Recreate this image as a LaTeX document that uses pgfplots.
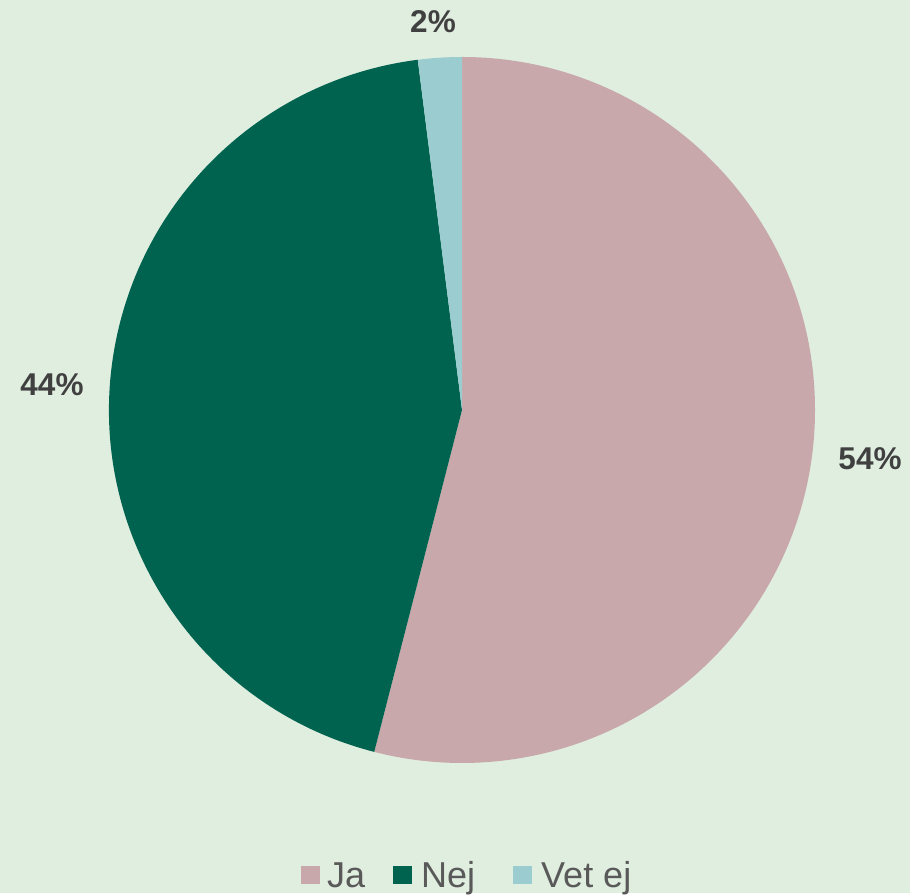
\documentclass[border=0pt]{standalone}
\usepackage{pgfplots}
\pgfplotsset{compat=1.18}
\usepackage{fontspec}
\setmainfont{Liberation Sans}
\definecolor{bg}{RGB}{224,238,224}
\definecolor{ja}{RGB}{200,168,170}
\definecolor{nej}{RGB}{0,99,80}
\definecolor{vetej}{RGB}{155,204,208}
\definecolor{lbl}{RGB}{64,64,64}
\definecolor{leg}{RGB}{89,89,89}

\begin{document}
\begin{tikzpicture}
\begin{axis}[
    x=1pt, y=1pt,
    xmin=0, xmax=910, ymin=0, ymax=893,
    hide axis, clip=false,
]
\fill[bg] (axis cs:0,0) rectangle (axis cs:910,893);

% shares in percent: Ja 54, Nej 44, Vet ej 2 -> 3.6 degrees per percent, clockwise from 12 o'clock
\fill[ja]    (axis cs:462,483) -- ++(90:353pt)     arc[start angle=90,     delta angle=-194.4, radius=353pt] -- cycle;
\fill[nej]   (axis cs:462,483) -- ++(-104.4:353pt) arc[start angle=-104.4, delta angle=-158.4, radius=353pt] -- cycle;
\fill[vetej] (axis cs:462,483) -- ++(-262.8:353pt) arc[start angle=-262.8, delta angle=-7.2,   radius=353pt] -- cycle;

\begin{scope}[every node/.style={inner sep=0pt, text=lbl, font=\fontsize{31.5}{37}\selectfont\bfseries}]
\node at (axis cs:870,434) {54\%};
\node at (axis cs:52,508) {44\%};
\node at (axis cs:433,871) {2\%};
\end{scope}

% legend
\fill[ja]    (axis cs:301,9) rectangle (axis cs:320,27);
\fill[nej]   (axis cs:393,9) rectangle (axis cs:412,27);
\fill[vetej] (axis cs:513,9) rectangle (axis cs:532,27);
\begin{scope}[every node/.style={inner sep=0pt, anchor=base west, text=leg, font=\fontsize{36}{42}\selectfont}]
\node at (axis cs:327,6) {Ja};
\node at (axis cs:421,6) {Nej};
\node at (axis cs:541,6) {Vet ej};
\end{scope}
\end{axis}
\end{tikzpicture}
\end{document}
